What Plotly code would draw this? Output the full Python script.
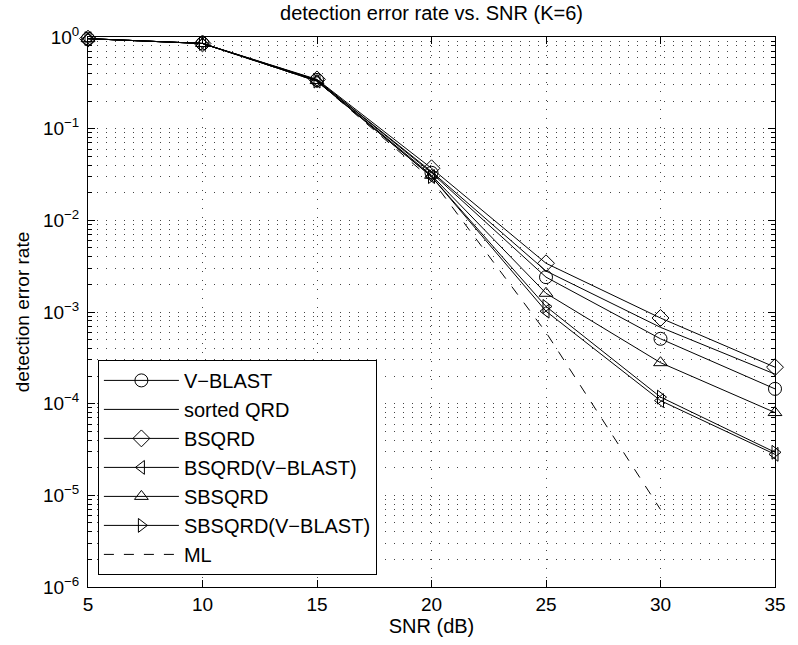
import plotly.graph_objects as go

snr = [5, 10, 15, 20, 25, 30, 35]
vblast = [0.96, 0.85, 0.34, 0.033, 0.0024, 0.00051, 0.000145]
sorted_qrd = [0.96, 0.85, 0.34, 0.034, 0.0028, 0.00068, 0.00021]
bsqrd = [0.96, 0.85, 0.345, 0.037, 0.0034, 0.00086, 0.00025]
bsqrd_vb = [0.96, 0.85, 0.33, 0.030, 0.00102, 0.000108, 2.8e-5]
sbsqrd = [0.96, 0.85, 0.335, 0.031, 0.0016, 0.00028, 8.0e-5]
sbsqrd_vb = [0.96, 0.85, 0.33, 0.030, 0.00115, 0.000118, 2.95e-5]
ml = [0.96, 0.85, 0.33, 0.028, 0.0006, 7e-6, None]

series = [
    ("V\u2212BLAST", vblast, "circle-open", 13, "solid"),
    ("sorted QRD", sorted_qrd, None, 0, "solid"),
    ("BSQRD", bsqrd, "diamond-open", 13, "solid"),
    ("BSQRD(V\u2212BLAST)", bsqrd_vb, "triangle-left-open", 12, "solid"),
    ("SBSQRD", sbsqrd, "triangle-up-open", 12, "solid"),
    ("SBSQRD(V\u2212BLAST)", sbsqrd_vb, "triangle-right-open", 12, "solid"),
    ("ML", ml, None, 0, "10px,10px"),
]

font = "Liberation Sans, Arial, Helvetica, sans-serif"
fig = go.Figure()
for name, vals, sym, sz, dash in series:
    mode = "lines+markers" if sym else "lines"
    kw = {}
    if sym:
        kw["marker"] = dict(symbol=sym, size=sz, color="black", line=dict(color="black", width=1))
    fig.add_trace(go.Scatter(x=snr, y=vals, name=name, mode=mode,
                             line=dict(color="black", width=1, dash=dash),
                             cliponaxis=False, **kw))

ytick_vals = [1e-6, 1e-5, 1e-4, 1e-3, 1e-2, 1e-1, 1]
ytick_text = ["10<sup>\u22126</sup>", "10<sup>\u22125</sup>", "10<sup>\u22124</sup>",
              "10<sup>\u22123</sup>", "10<sup>\u22122</sup>", "10<sup>\u22121</sup>", "10<sup>0</sup>"]
minor_vals = [m * 10.0 ** e for e in range(-6, 0) for m in range(2, 10)]
xtick_vals = [5, 10, 15, 20, 25, 30, 35]

griddot = "1px,8px"
gridcol = "#444"

fig.update_layout(
    width=798, height=645,
    margin=dict(l=88, r=14, t=37, b=58),
    paper_bgcolor="white", plot_bgcolor="white",
    font=dict(family=font, size=19, color="black"),
    title=dict(text="detection error rate vs. SNR (K=6)", x=0.5, xref="paper", xanchor="center",
               y=1 - 13 / 645, yref="container", yanchor="middle",
               font=dict(size=20)),
    showlegend=True,
    legend=dict(x=0.0144, y=0.022, xanchor="left", yanchor="bottom",
                bordercolor="black", borderwidth=1, bgcolor="white",
                font=dict(size=20), itemwidth=75, tracegroupgap=0),
)
fig.update_xaxes(
    range=[5, 35], tickvals=xtick_vals, ticks="inside", ticklen=7, tickcolor="black",
    showline=True, linecolor="black", linewidth=1, mirror="ticks",
    showgrid=True, gridcolor=gridcol, griddash=griddot, gridwidth=1,
    zeroline=False, title=dict(text="SNR (dB)", standoff=4, font=dict(size=20)),
    tickfont=dict(size=19),
)
fig.update_yaxes(
    type="log", range=[-6, 0], tickvals=ytick_vals, ticktext=ytick_text,
    ticks="inside", ticklen=7, tickcolor="black",
    showline=True, linecolor="black", linewidth=1, mirror="ticks",
    showgrid=True, gridcolor=gridcol, griddash=griddot, gridwidth=1,
    minor=dict(tickvals=minor_vals, ticks="inside", ticklen=4, tickcolor="black",
               showgrid=True, gridcolor=gridcol, griddash=griddot, gridwidth=1),
    zeroline=False, title=dict(text="detection error rate", standoff=8, font=dict(size=19)),
    tickfont=dict(size=19), ticklabelstandoff=4,
)

fig.write_html("out.html")
